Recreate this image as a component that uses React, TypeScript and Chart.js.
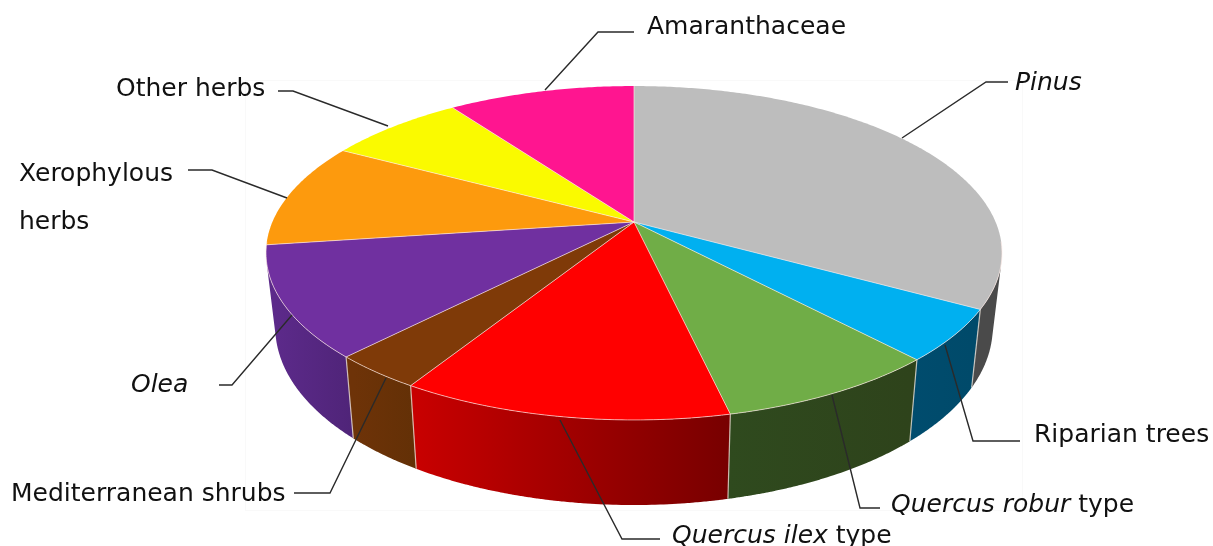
import React, { useEffect, useRef } from "react";
import { Chart, registerables } from "chart.js";

Chart.register(...registerables);

const categories = [
  "Pinus", "Riparian trees", "Quercus robur type", "Quercus ilex type", "Mediterranean shrubs",
  "Olea", "Xerophylous herbs", "Other herbs", "Amaranthaceae",
];
const values = [33.2, 5.0, 8.3, 12.2, 3.4, 10.7, 10.2, 7.2, 9.8];
const topColors = ["#BDBDBD", "#00B0F0", "#70AD47", "#FF0000", "#7F3A08", "#7030A0", "#FD9A0D", "#FAFA00", "#FF1590"];
const wallColorsA = ["#555555", "#004C6E", "#2F4A1E", "#C80000", "#6E3308", "#5C2A8A", "#A86508", "#A5A500", "#A80D60"];
const wallColorsB = ["#4A4A4A", "#004A6A", "#2E431B", "#780000", "#633006", "#4F2478", "#A86508", "#A5A500", "#A80D60"];

type Run = { t: string; i?: boolean };
const labelLines: Run[][][] = [
  [[{ t: "Pinus", i: true }]],
  [[{ t: "Riparian trees" }]],
  [[{ t: "Quercus robur", i: true }, { t: " type" }]],
  [[{ t: "Quercus ilex", i: true }, { t: " type" }]],
  [[{ t: "Mediterranean shrubs" }]],
  [[{ t: "Olea", i: true }]],
  [[{ t: "Xerophylous" }], [{ t: "herbs" }]],
  [[{ t: "Other herbs" }]],
  [[{ t: "Amaranthaceae" }]],
];
const labelAnchors = [
  [1015, 90], [1034, 442], [891, 512], [672, 543], [11, 501], [131, 392], [19, 181], [116, 96], [647, 34],
];
const lineGap = 48;
const leaders = [
  [[902, 138], [986, 82], [1008, 82]],
  [[945, 345], [973, 441], [1020, 441]],
  [[832, 395], [860, 508], [880, 508]],
  [[560, 420], [622, 539], [660, 539]],
  [[386, 378], [330, 493], [294, 493]],
  [[292, 315], [232, 385], [219, 385]],
  [[287, 198], [212, 170], [188, 170]],
  [[388, 126], [293, 91], [278, 91]],
  [[545, 90], [598, 32], [634, 32]],
];

const W = 1213;
const H = 546;
const R = 200;
const K = -0.1856;
const SX = 361.6 / R;
const SY = 161.2 / R;
const WALL_SCALE = 0.975;
const WALL_DROP = 71;
const WALL_DROP_Y = 19;
const FONT = '"DejaVu Sans", Verdana, sans-serif';
const FONT_SIZE = 25;

const pie3d = {
  id: "pie3d",
  beforeDatasetsDraw(chart: any) {
    const ctx: CanvasRenderingContext2D = chart.ctx;
    const arcs = chart.getDatasetMeta(0).data;
    const cx = arcs[0].x;
    const cy = arcs[0].y;
    const ratio = arcs[0].outerRadius / R;
    const proj = (a: number, low: boolean): [number, number] => {
      const X = Math.cos(a);
      const Y = Math.sin(a);
      const d = 1 + K * Y;
      const px = (SX * R * ratio * X) / d;
      const py = (SY * R * ratio * Y) / d;
      return low
        ? [cx + WALL_SCALE * px, cy + WALL_DROP + WALL_DROP_Y * Y + WALL_SCALE * py]
        : [cx + px, cy + py];
    };

    ctx.save();
    ctx.strokeStyle = "#F9F9F9";
    ctx.lineWidth = 1;
    ctx.strokeRect(245.5, 80.5, 777, 430);

    // walls: only quads that face the viewer
    arcs.forEach((arc: any, idx: number) => {
      const a0 = arc.startAngle;
      const a1 = arc.endAngle;
      const steps = Math.max(2, Math.ceil((a1 - a0) / 0.01));
      ctx.beginPath();
      for (let s = 0; s < steps; s++) {
        const u = a0 + ((a1 - a0) * s) / steps;
        const v = a0 + ((a1 - a0) * (s + 1)) / steps + 0.002;
        const p = [proj(u, false), proj(v, false), proj(v, true), proj(u, true)];
        const area = p.reduce((acc, q, i) => {
          const n = p[(i + 1) % 4];
          return acc + q[0] * n[1] - n[0] * q[1];
        }, 0);
        if (area > 0) continue;
        ctx.moveTo(p[0][0], p[0][1]);
        for (let i = 1; i < 4; i++) ctx.lineTo(p[i][0], p[i][1]);
        ctx.closePath();
      }
      const [sa, sb] = proj(a0, false)[0] < proj(a1, false)[0] ? [a0, a1] : [a1, a0];
      const g = ctx.createLinearGradient(proj(sa, true)[0], 0, proj(sb, true)[0], 0);
      g.addColorStop(0, wallColorsA[idx]);
      g.addColorStop(1, wallColorsB[idx]);
      ctx.fillStyle = g;
      ctx.fill();
    });

    // wall separators on the visible near side
    ctx.strokeStyle = "rgba(235,225,215,0.8)";
    ctx.lineWidth = 1.2;
    arcs.forEach((arc: any) => {
      const a = arc.startAngle;
      if (Math.sin(a) > 0.2) {
        const t = proj(a, false);
        const b = proj(a, true);
        ctx.beginPath();
        ctx.moveTo(t[0], t[1]);
        ctx.lineTo(b[0], b[1]);
        ctx.stroke();
      }
    });

    // top faces
    arcs.forEach((arc: any, idx: number) => {
      const a0 = arc.startAngle;
      const a1 = arc.endAngle;
      const steps = Math.max(2, Math.ceil((a1 - a0) / 0.01));
      ctx.beginPath();
      ctx.moveTo(cx, cy);
      for (let s = 0; s <= steps; s++) {
        const p = proj(a0 + ((a1 - a0) * s) / steps, false);
        ctx.lineTo(p[0], p[1]);
      }
      ctx.closePath();
      ctx.fillStyle = topColors[idx];
      ctx.fill();
    });

    // rim highlight on the near side, radial separators
    ctx.strokeStyle = "rgba(255,235,230,0.65)";
    ctx.lineWidth = 1;
    ctx.beginPath();
    for (let s = 0; s <= 200; s++) {
      const a = 0.12 + ((Math.PI - 0.24) * s) / 200;
      const p = proj(a, false);
      if (s === 0) ctx.moveTo(p[0], p[1]);
      else ctx.lineTo(p[0], p[1]);
    }
    ctx.stroke();
    arcs.forEach((arc: any) => {
      const p = proj(arc.startAngle, false);
      ctx.beginPath();
      ctx.moveTo(cx, cy);
      ctx.lineTo(p[0], p[1]);
      ctx.stroke();
    });
    ctx.restore();
    return false;
  },
  afterDraw(chart: any) {
    const ctx: CanvasRenderingContext2D = chart.ctx;
    ctx.save();
    ctx.strokeStyle = "#2A2A2A";
    ctx.lineWidth = 1.4;
    leaders.forEach((pts) => {
      ctx.beginPath();
      pts.forEach((p, i) => (i ? ctx.lineTo(p[0], p[1]) : ctx.moveTo(p[0], p[1])));
      ctx.stroke();
    });
    ctx.fillStyle = "#111111";
    ctx.textBaseline = "alphabetic";
    ctx.textAlign = "left";
    labelLines.forEach((lines, idx) => {
      const [ax, ay] = labelAnchors[idx];
      lines.forEach((runs, li) => {
        let x = ax;
        runs.forEach((r) => {
          ctx.font = `${r.i ? "italic " : ""}${FONT_SIZE}px ${FONT}`;
          ctx.fillText(r.t, x, ay + li * lineGap);
          x += ctx.measureText(r.t).width;
        });
      });
    });
    ctx.restore();
  },
};

export default function App() {
  const ref = useRef<HTMLCanvasElement | null>(null);
  useEffect(() => {
    const chart = new Chart(ref.current!, {
      type: "pie",
      data: {
        labels: categories,
        datasets: [{ data: values, backgroundColor: topColors, borderWidth: 0 }],
      },
      options: {
        responsive: false,
        animation: false,
        layout: { padding: { left: 434, right: W - 834, top: 22, bottom: H - 422 } },
        plugins: { legend: { display: false }, tooltip: { enabled: false }, title: { display: false } },
      },
      plugins: [pie3d as any],
    });
    return () => chart.destroy();
  }, []);
  return (
    <div style={{ position: "absolute", left: 0, top: 0, width: W, height: H, background: "#fff" }}>
      <canvas ref={ref} width={W} height={H} style={{ display: "block" }} />
    </div>
  );
}
